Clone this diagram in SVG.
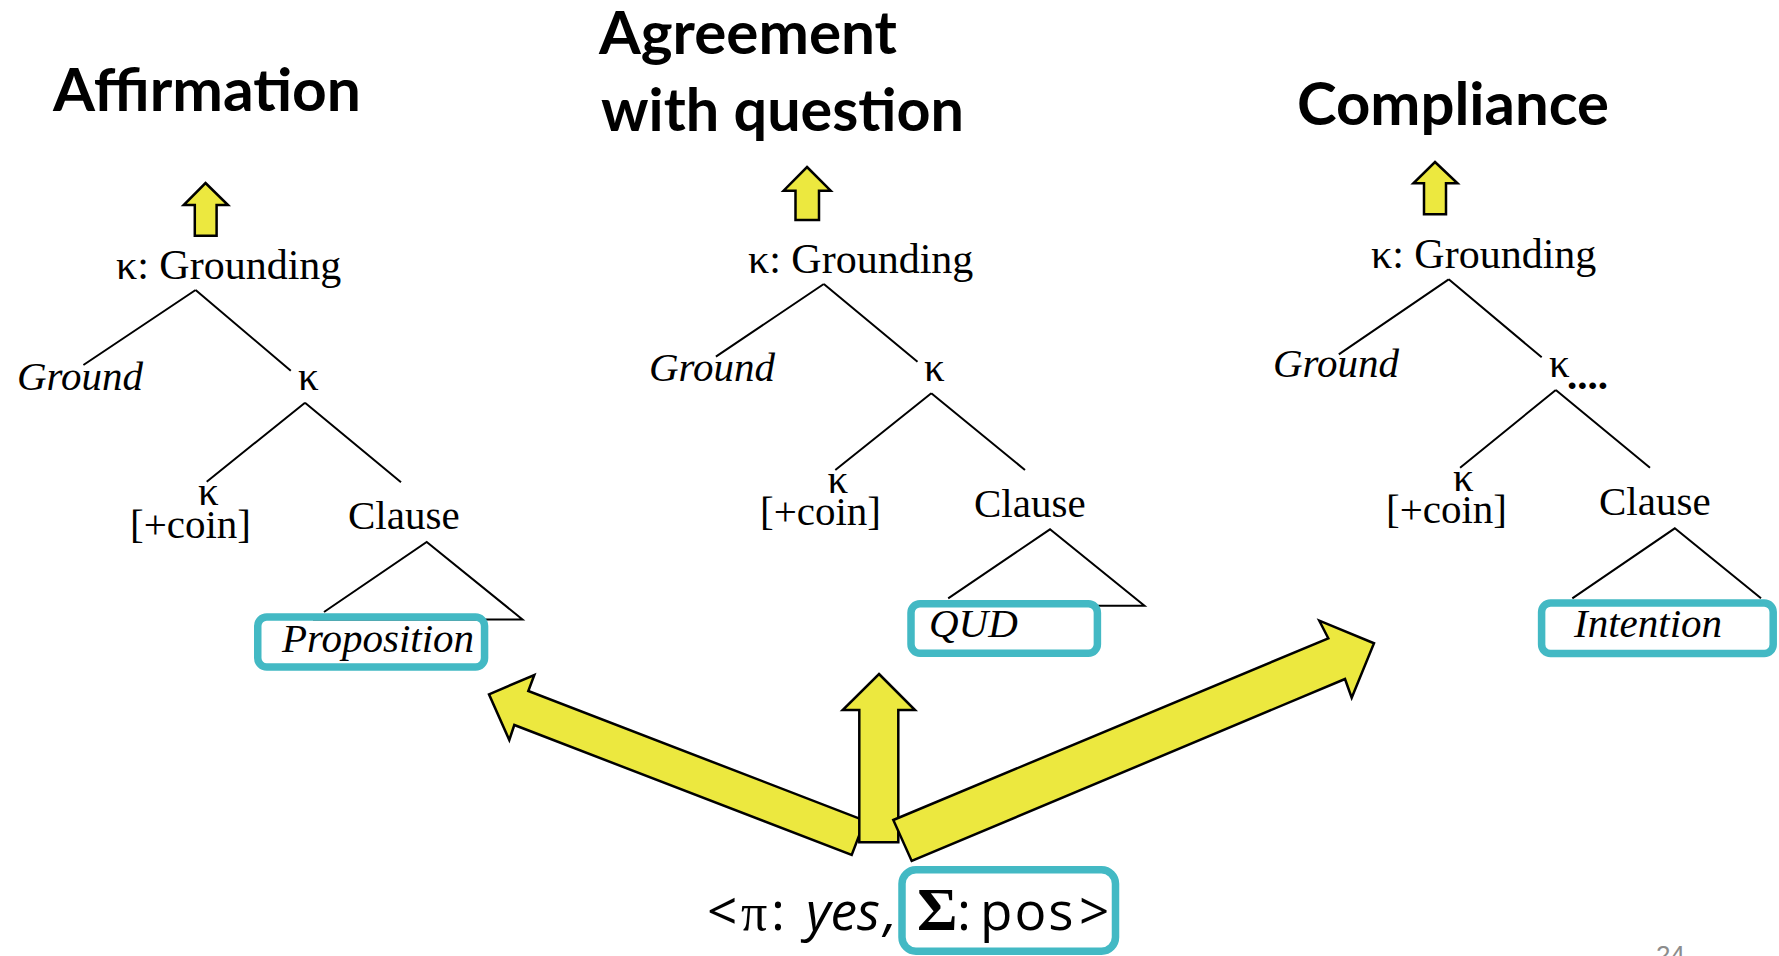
<svg xmlns="http://www.w3.org/2000/svg" width="1779" height="956" viewBox="0 0 1779 956">
<style>
.title{font-family:Lato,"Open Sans","Liberation Sans",sans-serif;font-weight:bold;font-size:60px;fill:#000}
.s{font-family:"Liberation Serif","Times New Roman",serif;font-size:41px;fill:#000}
.g{font-size:42px}
.i{font-style:italic}
.ln{stroke:#000;stroke-width:2;fill:none;stroke-linecap:butt}
.arr{fill:#ECE83F;stroke:#000;stroke-width:2.5;stroke-linejoin:miter}
.box{fill:none;stroke:#43B9C4;stroke-width:7.5}
.b{font-family:"Open Sans",Lato,"Liberation Sans",sans-serif;font-size:53px;fill:#000}
</style>
<rect width="1779" height="956" fill="#fff"/>

<g id="titles">
  <text id="t-affirmation" class="title" x="53" y="111" textLength="308" lengthAdjust="spacingAndGlyphs">Affirmation</text>
  <text id="t-agreement" class="title" x="599" y="54" textLength="298" lengthAdjust="spacingAndGlyphs">Agreement</text>
  <text id="t-question" class="title" x="601" y="131" textLength="363" lengthAdjust="spacingAndGlyphs">with question</text>
  <text id="t-compliance" class="title" x="1297" y="125" textLength="312" lengthAdjust="spacingAndGlyphs">Compliance</text>
</g>

<g id="connectors">
  <!-- tree 1 -->
  <path class="ln" d="M195.6,290 L83.4,365 M195.6,290 L290.8,370.7 M305,402.7 L206.7,481.7 M305,402.7 L401,482.3 M324,612 L426.7,542 L522.5,619.5 L313,619.5"/>
  <!-- tree 2 -->
  <path class="ln" d="M823.8,284 L715.9,356.7 M823.8,284 L917.5,361.7 M931.3,393.3 L835.3,470 M931.3,393.3 L1025,470 M948.2,598.3 L1050,529.3 L1144.5,605.7 L1095,605.7"/>
  <!-- tree 3 -->
  <path class="ln" d="M1448.7,279.3 L1338.8,354.3 M1448.7,279.3 L1541.7,357.3 M1555.8,390 L1460.1,467.7 M1555.8,390 L1650,467.7 M1572.3,598.3 L1674.8,528.3 L1761,598.3"/>
  <!-- small up arrows -->
  <polygon id="up1" class="arr" points="205.5,183 228,205 216.6,205 216.6,235.7 194.8,235.7 194.8,205 183.7,205"/>
  <polygon id="up2" class="arr" points="807,167 830.7,190.7 819,190.7 819,220 795.5,220 795.5,190.7 783.6,190.7"/>
  <polygon id="up3" class="arr" points="1435,162 1457.5,183.3 1446,183.3 1446,214.3 1424,214.3 1424,183.3 1413.4,183.3"/>
  <!-- big arrows -->
  <polygon id="big-left" class="arr" points="489,694.3 534.3,675 528.3,691 864.8,820.6 851.7,855 514.3,725 509.3,740"/>
  <polygon id="big-up" class="arr" points="879,674 915,710 898.3,710 898.3,842.3 859.3,842.3 859.3,710 842.7,710"/>
  <polygon id="big-right" class="arr" points="893.3,820 1328.3,638.3 1319.3,620.7 1374,643.3 1351.7,697.7 1345,679 911.7,861"/>
</g>

<g id="tree1">
  <text class="s g" x="116" y="279">κ: Grounding</text>
  <text class="s i" x="17" y="390">Ground</text>
  <text class="s" x="298" y="390">κ</text>
  <text class="s" x="198" y="505">κ</text>
  <text class="s" x="130" y="538">[+coin]</text>
  <text class="s" x="348" y="529">Clause</text>
  <g id="prop">
    <rect class="box" x="257.75" y="617" width="226.8" height="50" rx="9"/>
    <text class="s i" x="282" y="652">Proposition</text>
  </g>
</g>

<g id="tree2">
  <text class="s g" x="748" y="273.3">κ: Grounding</text>
  <text class="s i" x="649" y="381">Ground</text>
  <text class="s" x="924" y="381">κ</text>
  <text class="s" x="827.5" y="493.3">κ</text>
  <text class="s" x="760" y="525">[+coin]</text>
  <text class="s" x="974" y="517.3">Clause</text>
  <g id="qud">
    <rect class="box" x="911" y="603.8" width="186.4" height="49.5" rx="9"/>
    <text class="s i" x="929" y="637">QUD</text>
  </g>
</g>

<g id="tree3">
  <text class="s g" x="1371" y="267.7">κ: Grounding</text>
  <text class="s i" x="1273" y="377.3">Ground</text>
  <text class="s" x="1549" y="376.7">κ</text>
  <text class="s" x="1567" y="389" font-weight="bold" font-size="30">....</text>
  <text class="s" x="1453" y="491">κ</text>
  <text class="s" x="1386" y="523.3">[+coin]</text>
  <text class="s" x="1599" y="515">Clause</text>
  <g id="intention">
    <rect class="box" x="1541.6" y="603" width="231.6" height="50.5" rx="9"/>
    <text class="s i" x="1574" y="637.3">Intention</text>
  </g>
</g>

<g id="yes-node">
  <rect class="box" x="902" y="869.8" width="213.5" height="81.5" rx="14"/>
  <text class="b" x="707" y="930">&lt;</text>
  <text x="741" y="930" font-family="'Liberation Serif','Times New Roman',serif" font-size="52">π</text>
  <text class="b" x="771" y="930">:</text>
  <text class="b" x="806" y="930" font-style="italic" textLength="74" lengthAdjust="spacingAndGlyphs">yes</text>
  <text class="b" x="884" y="930" font-style="italic">,</text>
  <text x="917" y="930" font-family="'Liberation Serif','Times New Roman',serif" font-weight="bold" font-size="62">Σ</text>
  <text class="b" x="957" y="930">:</text>
  <text class="b" x="980" y="930" letter-spacing="2">pos</text>
  <text class="b" x="1079" y="930">&gt;</text>
</g>

<text id="page" x="1656" y="964" font-family="'Liberation Sans',Arial,sans-serif" font-size="26" fill="#8c8c8c">24</text>
</svg>
